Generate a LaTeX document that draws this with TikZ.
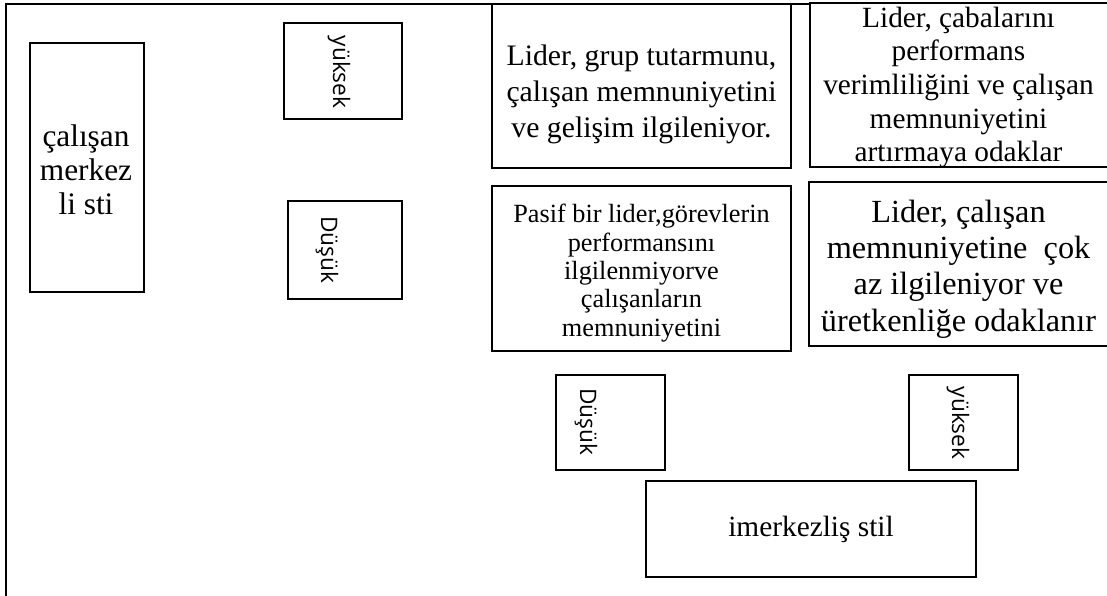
\documentclass[tikz,border=0pt]{standalone}
\usepackage{fontspec}
\setmainfont{Liberation Serif}
\newfontfamily\tagfont{Open Sans}
\newdimen\px \px=0.75pt

\begin{document}
\begin{tikzpicture}[x=0.75pt, y=-0.75pt, line width=1pt,
    box/.style={draw, rectangle, inner sep=0pt},
    txt/.style={inner sep=0pt, align=center},
    tag/.style={inner sep=0pt, rotate=-90, font=\tagfont\fontsize{17}{20}\selectfont}]
  \useasboundingbox (0,0) rectangle (1107,596);
  \draw (810,4) -| (6,600);
  \node[box, minimum width=114\px, minimum height=249\px] (stil) at (87,167.5) {};
  \node[txt, font=\fontsize{23.5}{25.5}\selectfont] (stiltxt) at (86,170)
        {çalışan\\merkez\\li sti};
  \node[box, minimum width=118\px, minimum height=96\px] (hiL) at (343,71) {};
  \node[tag] (hiLtxt) at (339,72) {yüksek};
  \node[box, minimum width=114\px, minimum height=98\px] (loL) at (345,250) {};
  \node[tag] (loLtxt) at (327,250) {Düşük};
  \node[box, minimum width=299\px, minimum height=164\px] (tl) at (641.5,86) {};
  \node[txt, font=\fontsize{22.3}{27}\selectfont] (tltxt) at (641.5,94)
        {Lider, grup tutarmunu,\\çalışan memnuniyetini\\ve gelişim ilgileniyor.};
  \node[box, minimum width=300\px, minimum height=164\px] (tr) at (960,85) {};
  \node[txt, font=\fontsize{22}{25.2}\selectfont] (trtxt) at (958.5,87.5)
        {Lider, çabalarını\\performans\\verimliliğini ve çalışan\\memnuniyetini\\artırmaya odaklar};
  \node[box, minimum width=299\px, minimum height=165\px] (bl) at (641.5,268.5) {};
  \node[txt, font=\fontsize{19.7}{21.3}\selectfont] (bltxt) at (641.5,273)
        {Pasif bir lider,görevlerin\\performansını\\ilgilenmiyorve\\çalışanların\\memnuniyetini};
  \node[box, minimum width=301\px, minimum height=164\px] (br) at (959.5,264) {};
  \node[txt, font=\fontsize{24.2}{27.3}\selectfont] (brtxt) at (958.5,269)
        {Lider, çalışan\\memnuniyetine~ çok\\az ilgileniyor ve\\üretkenliğe odaklanır};
  \node[box, minimum width=109\px, minimum height=95\px] (loB) at (610.5,422.5) {};
  \node[tag] (loBtxt) at (586,422) {Düşük};
  \node[box, minimum width=109\px, minimum height=95\px] (hiB) at (963.5,422.5) {};
  \node[tag] (hiBtxt) at (958,423) {yüksek};
  \node[box, minimum width=330\px, minimum height=96\px] (gorev) at (811,529) {};
  \node[txt, font=\fontsize{22}{25}\selectfont] (gorevtxt) at (811,529)
        {imerkezliş stil};
\end{tikzpicture}
\end{document}
